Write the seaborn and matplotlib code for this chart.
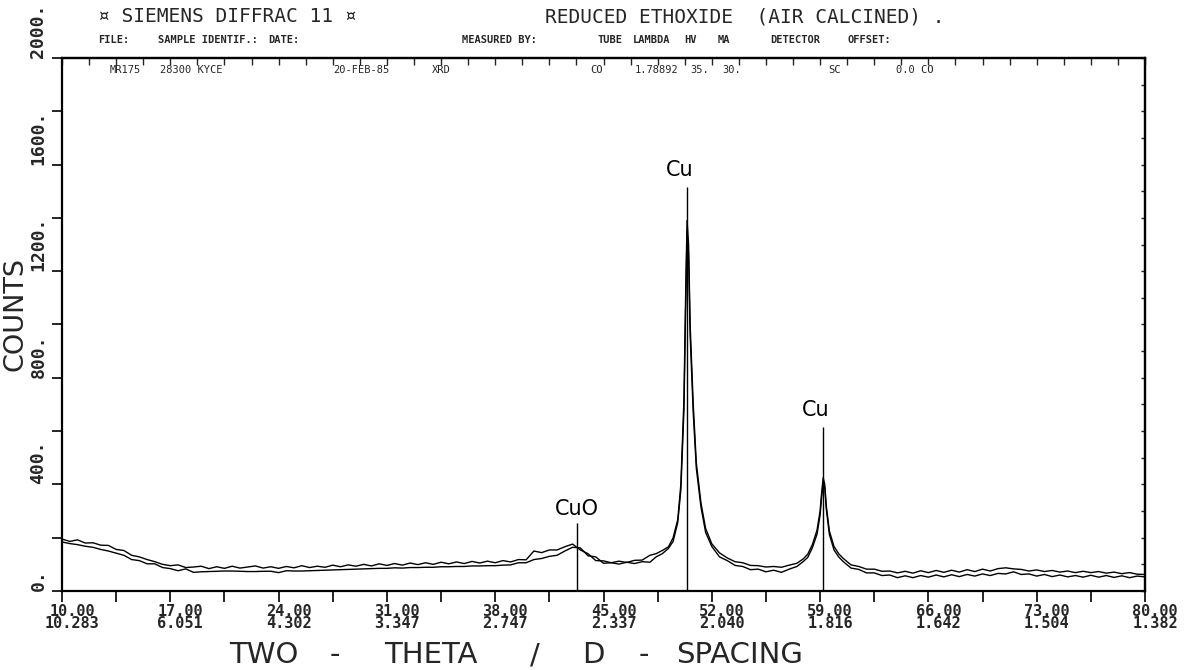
import numpy as np
import pandas as pd
import matplotlib
matplotlib.use("Agg")
import matplotlib.pyplot as plt
import seaborn as sns
from matplotlib.transforms import ScaledTranslation
from matplotlib.ticker import FixedLocator, NullFormatter

# ---------------- data ----------------
two_theta = [
    10.0, 10.5, 11.0, 11.5, 12.0, 12.5, 13.0, 13.5, 14.0, 14.5, 15.0, 15.5, 16.0, 16.5,
    17.0, 17.5, 18.0, 18.5, 19.0, 19.5, 20.0, 20.5, 21.0, 21.5, 22.0, 22.5, 23.0, 23.5,
    24.0, 24.5, 25.0, 25.5, 26.0, 26.5, 27.0, 27.5, 28.0, 28.5, 29.0, 29.5, 30.0, 30.5,
    31.0, 31.5, 32.0, 32.5, 33.0, 33.5, 34.0, 34.5, 35.0, 35.5, 36.0, 36.5, 37.0, 37.5,
    38.0, 38.5, 39.0, 39.5, 40.0, 40.5, 41.0, 41.5, 42.0, 42.5, 43.0, 43.5, 44.0, 44.5,
    45.0, 45.5, 46.0, 46.5, 47.0, 47.5, 48.0,
    48.4, 48.8, 49.2, 49.5, 49.8, 50.0, 50.2, 50.3, 50.4, 50.5, 50.6, 50.8, 51.0, 51.3,
    51.6, 52.0, 52.5,
    53.0, 53.5, 54.0, 54.5, 55.0, 55.5, 56.0, 56.5, 57.0, 57.5,
    57.9, 58.2, 58.5, 58.8, 59.0, 59.1, 59.2, 59.3, 59.4, 59.6, 59.9, 60.2, 60.5,
    61.0, 61.5, 62.0, 62.5, 63.0, 63.5, 64.0, 64.5, 65.0, 65.5, 66.0, 66.5, 67.0, 67.5,
    68.0, 68.5, 69.0, 69.5, 70.0, 70.5, 71.0, 71.5, 72.0, 72.5, 73.0, 73.5, 74.0, 74.5,
    75.0, 75.5, 76.0, 76.5, 77.0, 77.5, 78.0, 78.5, 79.0, 79.5, 80.0,
]

counts_scan1 = [
    195, 186, 192, 180, 181, 172, 171, 156, 152, 134, 128, 118, 110, 100,
    95, 98, 88, 90, 93, 84, 91, 85, 93, 86, 90, 94, 86, 91,
    85, 92, 87, 95, 88, 93, 89, 97, 91, 98, 93, 100, 94, 102,
    96, 103, 97, 105, 99, 106, 100, 108, 102, 109, 103, 111, 105, 112,
    106, 114, 109, 118, 117, 150, 144, 154, 154, 166, 176, 154, 140, 114,
    113, 106, 112, 107, 115, 116, 134,
    140, 152, 166, 200, 268, 400, 720, 1080, 1390, 1300, 1000, 700, 480, 330,
    235, 177, 143,
    124, 110, 106, 96, 95, 90, 92, 89, 97, 104,
    120, 138, 174, 228, 300, 370, 425, 400, 320, 225, 167, 140, 122,
    98, 92, 82, 82, 74, 75, 68, 74, 67, 76, 69, 77, 70, 78,
    71, 80, 73, 82, 75, 84, 87, 83, 81, 75, 79, 73, 77, 71,
    75, 69, 74, 69, 73, 67, 71, 65, 69, 63, 62,
]

counts_scan2 = [
    184, 178, 174, 168, 164, 156, 150, 142, 134, 118, 114, 102, 102, 88,
    84, 76, 83, 70, 72, 73, 74, 75, 75, 74, 73, 73, 74, 74,
    69, 76, 75, 75, 76, 77, 78, 79, 80, 81, 82, 83, 84, 85,
    85, 87, 86, 88, 88, 89, 89, 91, 91, 92, 92, 94, 94, 95,
    95, 97, 98, 106, 106, 118, 122, 130, 134, 150, 164, 162, 132, 128,
    104, 106, 101, 108, 103, 110, 108,
    128, 140, 160, 186, 257, 380, 680, 1030, 1350, 1260, 960, 670, 460, 315,
    220, 167, 128,
    114, 96, 92, 80, 82, 72, 78, 70, 82, 92,
    110, 126, 162, 213, 285, 352, 405, 388, 308, 212, 154, 128, 110,
    86, 81, 68, 68, 58, 60, 50, 57, 50, 58, 52, 60, 53, 61,
    54, 62, 56, 64, 58, 66, 64, 72, 62, 64, 56, 62, 54, 60,
    53, 58, 52, 59, 52, 58, 51, 57, 50, 56, 53,
]

xtick_two_theta = [10, 17, 24, 31, 38, 45, 52, 59, 66, 73, 80]
xtick_top_labels = ["10.00", "17.00", "24.00", "31.00", "38.00", "45.00",
                    "52.00", "59.00", "66.00", "73.00", "80.00"]
xtick_d_spacing = ["10.283", "6.051", "4.302", "3.347", "2.747", "2.337",
                   "2.040", "1.816", "1.642", "1.504", "1.382"]
ytick_values = [0, 400, 800, 1200, 1600, 2000]
ytick_labels = ["0.", "400.", "800.", "1200.", "1600.", "2000."]

peak_labels = ["CuO", "Cu", "Cu"]
peak_positions = [43.3, 50.4, 59.2]
peak_line_tops = [255, 1516, 615]

# ---------------- figure ----------------
sns.set_style("white")
plt.rcParams["font.family"] = ["DejaVu Sans"]

W, H = 1204, 670
fig = plt.figure(figsize=(W / 100, H / 100), dpi=100)
fig.patch.set_facecolor("white")
ax = fig.add_axes([62 / W, 79 / H, 1083 / W, 533 / H])


def fx(x):
    return x / W


def fy(y):
    return 1 - y / H


n = len(two_theta)
df = pd.DataFrame({
    "two_theta": two_theta + two_theta,
    "counts": counts_scan1 + counts_scan2,
    "scan": ["1"] * n + ["2"] * n,
})
sns.lineplot(data=df, x="two_theta", y="counts", hue="scan",
             palette=["black", "black"], estimator=None, sort=False,
             linewidth=1.0, legend=False, ax=ax)

# peak markers
for lab, pos, top in zip(peak_labels, peak_positions, peak_line_tops):
    ax.vlines(pos, 0, top, color="black", linewidth=1.0)
label_xy = [(43.3, 308), (49.9, 1580), (58.7, 679)]
for lab, (lx, ly) in zip(peak_labels, label_xy):
    ax.text(lx, ly, lab, ha="center", va="center", fontsize=15, color="black")

ax.set_xlim(10, 80)
ax.set_ylim(0, 2000)
ax.set_xlabel("")
ax.set_ylabel("")

for s in ax.spines.values():
    s.set_visible(True)
    s.set_color("black")
    s.set_linewidth(1.6)

# x ticks
ax.set_xticks(xtick_two_theta)
ax.set_xticklabels([f"{a}\n{b}" for a, b in zip(xtick_top_labels, xtick_d_spacing)],
                   fontfamily="DejaVu Sans Mono", fontweight="bold", fontsize=11,
                   linespacing=0.8)
ax.xaxis.set_minor_locator(FixedLocator([13.5, 20.5, 27.5, 34.5, 41.5, 48.5, 55.5, 62.5, 69.5, 76.5]))
ax.tick_params(axis="x", which="both", direction="out", length=8, width=1.2,
               color="black", pad=1, bottom=True)
offset = ScaledTranslation(10 / 100, 0, fig.dpi_scale_trans)
for lab in ax.get_xticklabels():
    lab.set_transform(lab.get_transform() + offset)

# y ticks
ax.set_yticks(ytick_values)
ax.set_yticklabels(ytick_labels, rotation=90, va="bottom", ha="right",
                   fontfamily="DejaVu Sans Mono", fontweight="bold", fontsize=13)
ax.yaxis.set_minor_locator(FixedLocator([200, 600, 1000, 1400, 1800]))
ax.tick_params(axis="y", which="both", direction="out", length=7, width=1.2,
               color="black", pad=3.5, left=True)

# top and right tick rows
top_ax = ax.secondary_xaxis("top")
top_ax.set_xticks(np.arange(10, 80.01, 1.75))
top_ax.xaxis.set_major_formatter(NullFormatter())
top_ax.tick_params(axis="x", direction="in", length=5, width=1.0)
top_ax.spines["top"].set_linewidth(1.6)

right_ax = ax.secondary_yaxis("right")
right_ax.set_yticks(np.arange(0, 2000.1, 100))
right_ax.yaxis.set_major_formatter(NullFormatter())
right_ax.tick_params(axis="y", direction="in", length=3, width=1.0)
right_ax.spines["right"].set_linewidth(1.6)

# header
mono = "DejaVu Sans Mono"
fig.text(fx(98), fy(17), "¤ SIEMENS DIFFRAC 11 ¤", ha="left", va="center",
         fontfamily=mono, fontsize=14)
fig.text(fx(545), fy(17), "REDUCED ETHOXIDE  (AIR CALCINED) .", ha="left", va="center",
         fontfamily=mono, fontsize=14)

row2 = [(98, "FILE:"), (158, "SAMPLE IDENTIF.:"), (268, "DATE:"), (462, "MEASURED BY:"),
        (598, "TUBE"), (633, "LAMBDA"), (684, "HV"), (718, "MA"),
        (770, "DETECTOR"), (848, "OFFSET:")]
for x, t in row2:
    fig.text(fx(x), fy(40), t, ha="left", va="center", fontfamily=mono,
             fontweight="bold", fontsize=7.5)

row3 = [(110, "MR175"), (160, "28300 KYCE"), (333, "20-FEB-85"), (432, "XRD"),
        (590, "CO"), (635, "1.78892"), (690, "35."), (722, "30."),
        (828, "SC"), (896, "0.0 CO")]
for x, t in row3:
    fig.text(fx(x), fy(70), t, ha="left", va="center", fontfamily=mono, fontsize=7.5)

# axis titles
fig.text(fx(16), fy(314), "COUNTS", rotation=90, ha="center", va="center", fontsize=19.5)
for x, t in [(264, "TWO"), (335, "-"), (431, "THETA"), (535, "/"),
             (593, "D"), (644, "-"), (740, "SPACING")]:
    fig.text(fx(x), fy(655), t, ha="center", va="center", fontsize=21)

fig.savefig("out.png", dpi=100, facecolor="white")
